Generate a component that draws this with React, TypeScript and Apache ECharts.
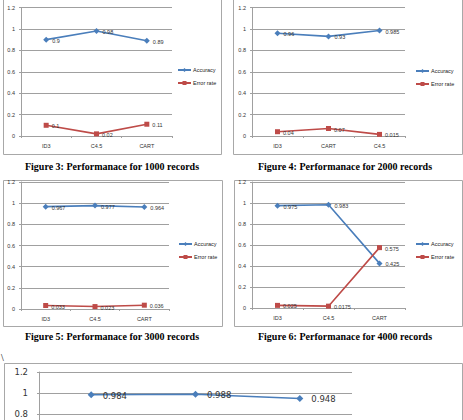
import React, { useEffect, useRef } from "react";
import * as echarts from "echarts";

// ---- data ----
const cats1 = ["ID3", "C4.5", "CART"];
const acc1 = [0.9, 0.98, 0.89];
const err1 = [0.1, 0.02, 0.11];

const cats2 = ["ID3", "CART", "C4.5"];
const acc2 = [0.96, 0.93, 0.985];
const err2 = [0.04, 0.07, 0.015];

const cats3 = ["ID3", "C4.5", "CART"];
const acc3 = [0.967, 0.977, 0.964];
const err3 = [0.033, 0.023, 0.036];

const cats4 = ["ID3", "C4.5", "CART"];
const acc4 = [0.975, 0.983, 0.425];
const err4 = [0.025, 0.0175, 0.575];

const cats5 = ["ID3", "C4.5", "CART"];
const acc5 = [0.984, 0.988, 0.948];

const seriesNames = ["Accuracy", "Error rate"];
const captions = [
  "Figure 3: Performanace for 1000 records",
  "Figure 4: Performanace for 2000 records",
  "Figure 5: Performanace for 3000 records",
  "Figure 6: Performanace for 4000 records",
];
const yMin = 0;
const yMax = 1.2;
const yStep = 0.2;
// the last chart is cut off by the page edge: only these tick labels are visible
const visibleLastTicks = [0.8, 1, 1.2];

const BLUE = "#4A7EBB";
const RED = "#BE4B48";
const GRID = "#A0A0A0";
const FRAME = "#A8A8A8";
const SANS = "Liberation Sans, Arial, sans-serif";

export default function App() {
  const ref = useRef<HTMLDivElement>(null);
  useEffect(() => {
    if (!ref.current) return;
    const chart = echarts.init(ref.current, null, { renderer: "svg" });

    const grids = [
      { left: 21, top: 7.5, width: 151, height: 128.5 },
      { left: 252, top: 7.5, width: 153, height: 128.5 },
      { left: 21, top: 182, width: 148, height: 127 },
      { left: 252, top: 182, width: 153, height: 126 },
      { left: 39, top: 372, width: 313, height: 126 },
    ];
    const cats = [cats1, cats2, cats3, cats4, cats5];
    const accs = [acc1, acc2, acc3, acc4, acc5];
    const errs = [err1, err2, err3, err4];

    const small = (i: number) => i < 4;
    const fs = (i: number) => (small(i) ? 5.5 : 8.5);
    const ff = (i: number) => (small(i) ? SANS : "DejaVu Sans, Verdana, sans-serif");

    const xAxis = grids.map((_, i) => ({
      type: "category",
      gridIndex: i,
      data: cats[i],
      boundaryGap: true,
      axisLine: { show: true, lineStyle: { color: GRID, width: 1 } },
      axisTick: { show: true, length: 2, lineStyle: { color: GRID } },
      axisLabel: { show: small(i), fontSize: fs(i), fontFamily: ff(i), color: "#333", margin: 7 },
    }));
    const yAxis = grids.map((_, i) => ({
      type: "value",
      gridIndex: i,
      min: yMin,
      max: yMax,
      interval: yStep,
      axisLine: { show: true, lineStyle: { color: GRID, width: 1 } },
      axisTick: { show: true, length: 2, lineStyle: { color: GRID } },
      splitLine: { show: true, lineStyle: { color: GRID, width: 1 } },
      axisLabel: {
        fontSize: fs(i),
        fontFamily: ff(i),
        color: "#333",
        margin: small(i) ? 6 : 11,
        formatter: small(i)
          ? undefined
          : (v: number) =>
              visibleLastTicks.some((t) => Math.abs(t - v) < 1e-6) ? String(+v.toFixed(1)) : "",
      },
    }));

    const mkLabel = (i: number) => ({
      show: true,
      position: "right",
      distance: small(i) ? 3 : 8,
      offset: [0, 1],
      fontSize: fs(i),
      fontFamily: ff(i),
      color: "#333",
      formatter: (p: any) => String(p.value),
    });

    const series: any[] = [];
    grids.forEach((_, i) => {
      series.push({
        type: "line",
        name: seriesNames[0],
        xAxisIndex: i,
        yAxisIndex: i,
        data: accs[i],
        symbol: "diamond",
        symbolSize: small(i) ? 6 : 7,
        lineStyle: { color: BLUE, width: small(i) ? 1.6 : 1.4 },
        itemStyle: { color: BLUE },
        label: mkLabel(i),
      });
      if (i < 4) {
        series.push({
          type: "line",
          name: seriesNames[1],
          xAxisIndex: i,
          yAxisIndex: i,
          data: errs[i],
          symbol: "rect",
          symbolSize: 5,
          lineStyle: { color: RED, width: 1.6 },
          itemStyle: { color: RED },
          label: mkLabel(i),
        });
      }
    });

    const legendPos = [
      { left: 177, top: 66.5 },
      { left: 415, top: 67.5 },
      { left: 178, top: 240.5 },
      { left: 415, top: 240.5 },
    ];
    const legend = legendPos.map((p) => ({
      ...p,
      orient: "vertical",
      data: seriesNames,
      itemWidth: 13,
      itemHeight: 5,
      itemGap: 6,
      padding: 0,
      textStyle: { fontSize: 5.5, fontFamily: SANS, color: "#222", padding: [0, 0, 0, -3], lineHeight: 7 },
      selectedMode: false,
    }));

    const frames = [
      { x: 3.5, y: -1.5, w: 218, h: 156 },
      { x: 233.5, y: -1.5, w: 229, h: 156 },
      { x: 3.5, y: 180.5, w: 219, h: 146 },
      { x: 234.5, y: 180.5, w: 228, h: 146 },
      { x: 4.5, y: 363.5, w: 458, h: 160 },
    ];
    const capPos = [
      { x: 112, y: 166 },
      { x: 345, y: 166 },
      { x: 112, y: 336 },
      { x: 345, y: 336 },
    ];
    const graphic: any[] = [
      ...frames.map((f) => ({
        type: "rect",
        z: -10,
        shape: { x: f.x, y: f.y, width: f.w, height: f.h },
        style: { fill: "#fff", stroke: FRAME, lineWidth: 1 },
      })),
      ...capPos.map((c, i) => ({
        type: "text",
        x: c.x,
        y: c.y,
        style: {
          text: captions[i],
          font: "bold 10px 'Liberation Serif', 'Times New Roman', serif",
          fill: "#000",
          align: "center",
          verticalAlign: "middle",
        },
      })),
      {
        type: "text",
        x: 1,
        y: 357,
        style: {
          text: "\\",
          font: "10px 'Liberation Serif', serif",
          fill: "#000",
          verticalAlign: "middle",
        },
      },
    ];

    chart.setOption({
      animation: false,
      backgroundColor: "#fff",
      grid: grids,
      xAxis,
      yAxis,
      series,
      legend,
      graphic,
    });
    return () => chart.dispose();
  }, []);
  return (
    <div
      style={{ position: "absolute", left: 0, top: 0, width: 463, height: 420, overflow: "hidden" }}
    >
      <div ref={ref} style={{ width: 463, height: 540 }} />
    </div>
  );
}
